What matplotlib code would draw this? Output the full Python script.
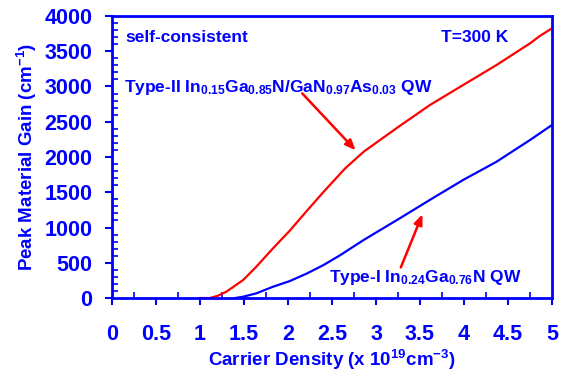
import matplotlib
matplotlib.use("Agg")
import matplotlib.pyplot as plt
from matplotlib.ticker import MultipleLocator, FuncFormatter

# carrier density (x 1e19 cm^-3) and peak gain (cm^-1)
n_type2 = [1.0, 1.11, 1.2, 1.3, 1.49, 1.64, 1.83, 2.02, 2.21, 2.40, 2.65, 2.86,
           3.23, 3.61, 3.99, 4.37, 4.75, 4.86, 5.0]
g_type2 = [0, 0, 30, 90, 255, 444, 705, 955, 1230, 1500, 1839, 2075,
           2406, 2735, 3021, 3305, 3612, 3715, 3826]

n_type1 = [1.40, 1.49, 1.64, 1.83, 2.02, 2.21, 2.40, 2.59, 2.86, 3.27, 3.61,
           3.99, 4.37, 4.75, 5.0]
g_type1 = [0, 18, 66, 160, 240, 345, 465, 605, 823, 1130, 1390,
           1674, 1933, 2241, 2454]

blue = "#0000ff"
red = "#ff0000"
plt.rcParams["font.family"] = ["Liberation Sans", "DejaVu Sans"]
plt.rcParams["font.weight"] = "bold"
plt.rcParams["mathtext.default"] = "regular"

fig = plt.figure(figsize=(5.7, 3.76), dpi=100)
ax = fig.add_axes([112/570, 1-298/376, 440/570, 282/376])

ax.plot(n_type2, g_type2, color=red, lw=1.6)
ax.plot(n_type1, g_type1, color=blue, lw=1.6)

ax.set_xlim(0, 5)
ax.set_ylim(0, 4000)
ax.xaxis.set_major_locator(MultipleLocator(0.5))
ax.xaxis.set_minor_locator(MultipleLocator(0.25))
ax.yaxis.set_major_locator(MultipleLocator(500))
ax.yaxis.set_minor_locator(MultipleLocator(100))
fmt = FuncFormatter(lambda v, p: "%g" % v)
ax.xaxis.set_major_formatter(fmt)
ax.yaxis.set_major_formatter(fmt)
ax.tick_params(which="major", direction="out", length=5, width=1.5,
               color=blue, labelcolor=blue, labelsize=15.5)
ax.tick_params(which="minor", direction="in", length=4, width=1.2, color=blue)
ax.tick_params(axis="x", pad=14)
ax.tick_params(axis="y", pad=9)
for s in ax.spines.values():
    s.set_color(blue)
    s.set_linewidth(2)
for lab in ax.get_xticklabels() + ax.get_yticklabels():
    lab.set_fontweight("bold")

ax.set_xlabel(r"Carrier Density (x 10$^{19}$cm$^{-3}$)", color=blue,
              fontsize=13.5, fontweight="bold", labelpad=2)
ax.set_ylabel(r"Peak Material Gain (cm$^{-1}$)", color=blue,
              fontsize=13.5, fontweight="bold", labelpad=4)

txt = dict(color=blue, fontsize=12.5, fontweight="bold", va="center")
ax.text(0.15, 3690, "self-consistent", **txt)
ax.text(4.5, 3690, "T=300 K", ha="right", **txt)
ax.text(0.14, 2980, r"Type-II In$_{0.15}$Ga$_{0.85}$N/GaN$_{0.97}$As$_{0.03}$ QW", **txt)
ax.text(2.47, 284, r"Type-I In$_{0.24}$Ga$_{0.76}$N QW", **txt)

arrow = dict(arrowstyle="-|>,head_length=0.6,head_width=0.25", color=red, lw=1.8)
ax.annotate("", xy=(2.79, 2067), xytext=(2.14, 2931), arrowprops=arrow)
ax.annotate("", xy=(3.54, 1224), xytext=(3.27, 397), arrowprops=arrow)

fig.savefig("out.png", dpi=100)
